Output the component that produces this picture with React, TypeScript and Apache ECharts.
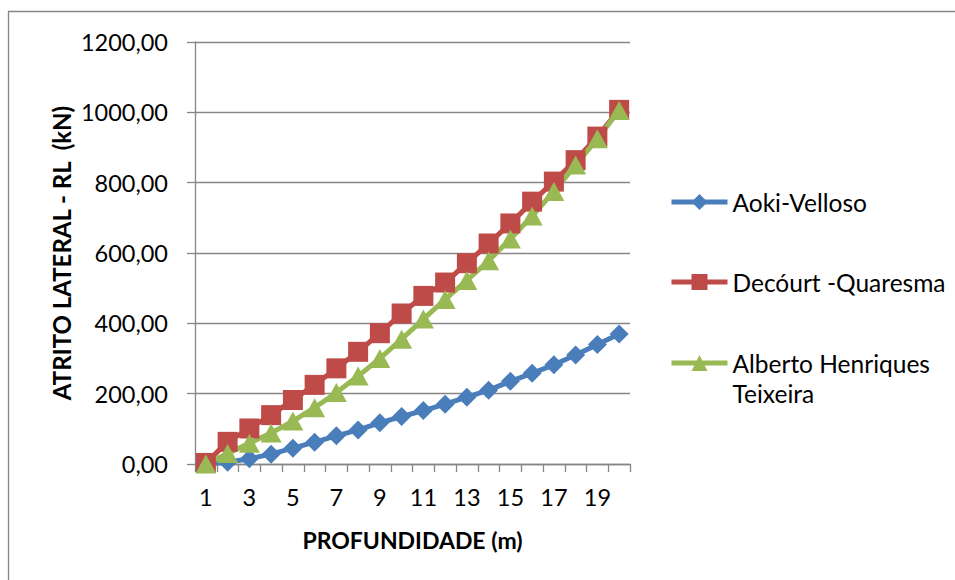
import React, { useEffect, useRef } from "react";
import * as echarts from "echarts";

const depths = ["1","2","3","4","5","6","7","8","9","10","11","12","13","14","15","16","17","18","19","20"];
const aokiVelloso = [0, 5, 15, 28, 45, 62, 80, 97, 117, 135, 152, 170, 190, 210, 235, 258, 282, 310, 340, 370];
const decourtQuaresma = [3, 63, 101, 139, 182, 225, 272, 319, 372, 428, 478, 516, 571, 627, 684, 746, 803, 864, 931, 1007];
const albertoTeixeira = [0, 30, 59, 88, 122, 160, 203, 250, 300, 355, 412, 468, 522, 578, 640, 705, 775, 850, 925, 1005];
const yTicks = [0, 200, 400, 600, 800, 1000, 1200];

const FONT = "Lato";
const LH = 30;

export default function App() {
  const ref = useRef<HTMLDivElement>(null);
  useEffect(() => {
    if (!ref.current) return;
    const chart = echarts.init(ref.current, null, { renderer: "svg" });
    const legendText = { fontFamily: FONT, fontSize: 24.5, color: "#000", lineHeight: LH };
    chart.setOption({
      animation: false,
      backgroundColor: "#ffffff",
      textStyle: { fontFamily: FONT },
      graphic: [
        {
          type: "rect",
          shape: { x: 8.5, y: 11.5, width: 1000, height: 1000 },
          style: { fill: "none", stroke: "#868686", lineWidth: 1.3 },
          silent: true,
        },
      ],
      grid: { left: 195, right: 325, top: 42, bottom: 116 },
      legend: [
        {
          orient: "vertical",
          left: 669,
          top: 187,
          padding: 0,
          itemWidth: 56,
          itemHeight: 20,
          itemGap: 50,
          lineStyle: { width: 5 },
          data: ["Aoki-Velloso", "Decóurt -Quaresma"],
          textStyle: legendText,
          selectedMode: false,
        },
        {
          orient: "vertical",
          left: 669,
          top: 318,
          padding: 0,
          itemWidth: 56,
          itemHeight: 20,
          lineStyle: { width: 5 },
          data: ["Alberto Henriques Teixeira"],
          formatter: (n: string) => {
            const parts = n.split("Henriques ");
            return "{e|}\n{t|" + parts[0] + "Henriques}\n{t|" + parts[1] + "}";
          },
          textStyle: {
            ...legendText,
            rich: {
              e: { height: LH, lineHeight: LH, fontSize: 24.5, fontFamily: FONT },
              t: { lineHeight: LH, fontSize: 24.5, fontFamily: FONT, color: "#000" },
            },
          },
          selectedMode: false,
        },
      ],
      xAxis: {
        type: "category",
        data: depths,
        boundaryGap: true,
        name: "PROFUNDIDADE (m)",
        nameLocation: "middle",
        nameGap: 64,
        nameTextStyle: { fontFamily: FONT, fontSize: 23, fontWeight: "bold", color: "#000" },
        axisLine: { lineStyle: { color: "#868686", width: 1.3 } },
        axisTick: { show: true, interval: 0, length: 8, lineStyle: { color: "#868686", width: 1.3 } },
        axisLabel: { interval: 1, margin: 21, fontSize: 23.5, color: "#000", fontFamily: FONT },
      },
      yAxis: {
        type: "value",
        min: 0,
        max: 1200,
        interval: 200,
        name: "ATRITO LATERAL - RL  (kN)",
        nameLocation: "middle",
        nameGap: 122,
        nameTextStyle: { fontFamily: FONT, fontSize: 24, fontWeight: "bold", color: "#000" },
        axisLine: { show: true, lineStyle: { color: "#868686", width: 1.3 } },
        axisTick: { show: true, length: 8, lineStyle: { color: "#868686", width: 1.3 } },
        splitLine: { show: true, lineStyle: { color: "#868686", width: 1.3 } },
        axisLabel: {
          margin: 27,
          fontSize: 23.5,
          color: "#000",
          fontFamily: FONT,
          formatter: (v: number) => (yTicks.includes(v) ? v.toFixed(2).replace(".", ",") : ""),
        },
      },
      series: [
        {
          name: "Aoki-Velloso",
          type: "line",
          data: aokiVelloso,
          symbol: "diamond",
          symbolSize: [19, 19],
          showAllSymbol: true,
          color: "#4A7EBB",
          lineStyle: { width: 5, color: "#4A7EBB" },
          itemStyle: { color: "#4A7EBB" },
        },
        {
          name: "Decóurt -Quaresma",
          type: "line",
          data: decourtQuaresma,
          symbol: "rect",
          symbolSize: 20,
          showAllSymbol: true,
          color: "#BE4B48",
          lineStyle: { width: 5, color: "#BE4B48" },
          itemStyle: { color: "#BE4B48" },
        },
        {
          name: "Alberto Henriques Teixeira",
          type: "line",
          data: albertoTeixeira,
          symbol: "triangle",
          symbolSize: [21, 19],
          showAllSymbol: true,
          color: "#98B954",
          lineStyle: { width: 5, color: "#98B954" },
          itemStyle: { color: "#98B954" },
        },
      ],
    });
    return () => chart.dispose();
  }, []);
  return (
    <div
      ref={ref}
      style={{ position: "fixed", left: 0, top: 0, width: 955, height: 580, background: "#fff" }}
    />
  );
}
